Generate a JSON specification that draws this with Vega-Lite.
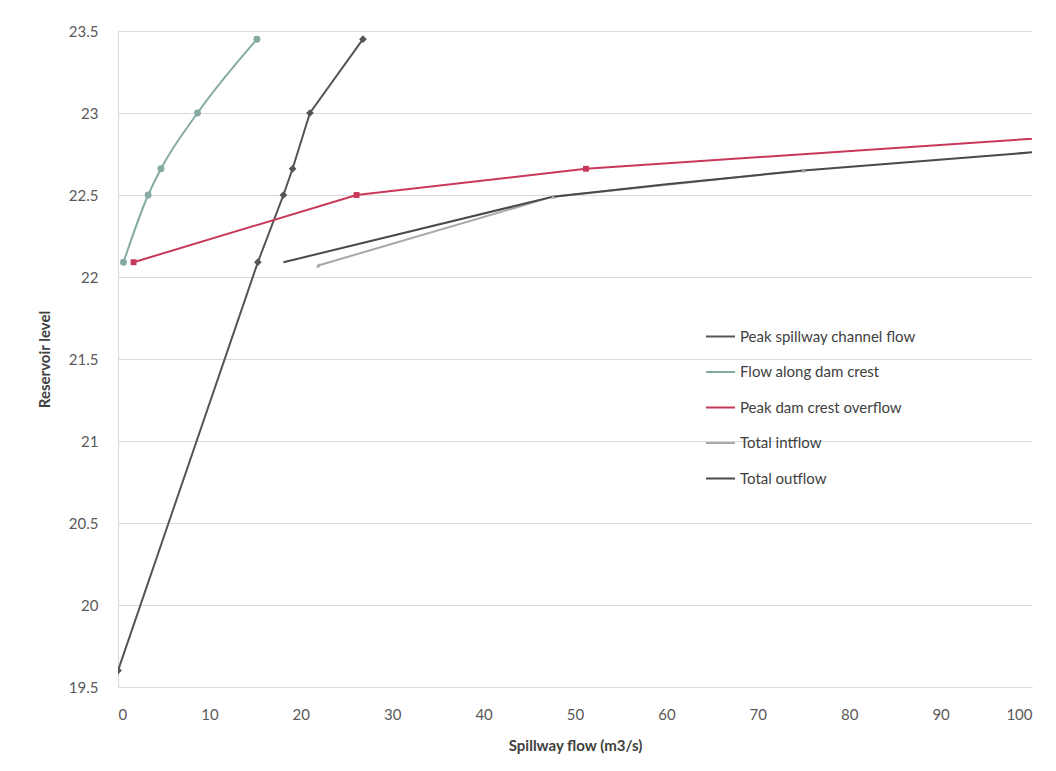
{
  "$schema": "https://vega.github.io/schema/vega-lite/v6.json",
  "width": 914,
  "height": 656,
  "autosize": "none",
  "padding": {"left": 118, "top": 31, "right": 24, "bottom": 84},
  "background": "white",
  "config": {
    "font": "Lato",
    "view": {"stroke": null},
    "axis": {
      "labelFont": "Lato",
      "labelFontSize": 15,
      "labelColor": "#595959",
      "titleFont": "Lato",
      "titleFontSize": 15,
      "titleFontWeight": "bold",
      "titleColor": "#404040",
      "ticks": false,
      "gridColor": "#d9d9d9",
      "domainColor": "#d9d9d9"
    }
  },
  "data": {
    "values": [
      {"series": "Peak spillway channel flow", "flow": 0, "level": 19.6},
      {"series": "Peak spillway channel flow", "flow": 15.3, "level": 22.09},
      {"series": "Peak spillway channel flow", "flow": 18.1, "level": 22.5},
      {"series": "Peak spillway channel flow", "flow": 19.1, "level": 22.66},
      {"series": "Peak spillway channel flow", "flow": 21.0, "level": 23.0},
      {"series": "Peak spillway channel flow", "flow": 26.8, "level": 23.45},

      {"series": "Flow along dam crest", "flow": 0.6, "level": 22.09},
      {"series": "Flow along dam crest", "flow": 3.3, "level": 22.5},
      {"series": "Flow along dam crest", "flow": 4.7, "level": 22.66},
      {"series": "Flow along dam crest", "flow": 8.7, "level": 23.0},
      {"series": "Flow along dam crest", "flow": 15.2, "level": 23.45},

      {"series": "Peak dam crest overflow", "flow": 1.7, "level": 22.09},
      {"series": "Peak dam crest overflow", "flow": 26.1, "level": 22.5},
      {"series": "Peak dam crest overflow", "flow": 51.2, "level": 22.66},
      {"series": "Peak dam crest overflow", "flow": 150, "level": 23.03},

      {"series": "Total intflow", "flow": 21.9, "level": 22.07},
      {"series": "Total intflow", "flow": 47.6, "level": 22.49},
      {"series": "Total intflow", "flow": 75.0, "level": 22.65},

      {"series": "Total outflow", "flow": 18.1, "level": 22.09},
      {"series": "Total outflow", "flow": 47.6, "level": 22.49},
      {"series": "Total outflow", "flow": 60.0, "level": 22.565},
      {"series": "Total outflow", "flow": 75.0, "level": 22.65},
      {"series": "Total outflow", "flow": 100.0, "level": 22.76},
      {"series": "Total outflow", "flow": 130, "level": 22.86}
    ]
  },
  "encoding": {
    "x": {
      "field": "flow",
      "type": "quantitative",
      "scale": {"domain": [0, 100], "nice": false, "zero": false},
      "axis": {
        "title": "Spillway flow (m3/s)",
        "values": [0, 10, 20, 30, 40, 50, 60, 70, 80, 90, 100],
        "format": "d",
        "grid": false,
        "labelPadding": 20,
        "titlePadding": 16
      }
    },
    "y": {
      "field": "level",
      "type": "quantitative",
      "scale": {"domain": [19.5, 23.5], "nice": false, "zero": false},
      "axis": {
        "title": "Reservoir level",
        "values": [19.5, 20, 20.5, 21, 21.5, 22, 22.5, 23, 23.5],
        "format": "~g",
        "grid": true,
        "labelPadding": 20,
        "titlePadding": 16
      }
    },
    "color": {
      "field": "series",
      "type": "nominal",
      "scale": {
        "domain": ["Peak spillway channel flow", "Flow along dam crest", "Peak dam crest overflow", "Total intflow", "Total outflow"],
        "range": ["#555555", "#85aaa4", "#c8385a", "#a8a8a8", "#4a4a4a"]
      },
      "legend": {
        "title": null,
        "orient": "none",
        "legendX": 587,
        "legendY": 290,
        "symbolType": "stroke",
        "symbolSize": 841,
        "symbolStrokeWidth": 2,
        "rowPadding": 11.5,
        "labelOffset": 4,
        "labelLimit": 0,
        "labelFont": "Lato",
        "labelFontSize": 15,
        "labelColor": "#404040",
        "padding": 0
      }
    }
  },
  "layer": [
    {
      "transform": [{"filter": "datum.series === 'Flow along dam crest'"}],
      "mark": {"type": "line", "clip": true, "strokeWidth": 2, "interpolate": "monotone"}
    },
    {
      "transform": [{"filter": "datum.series !== 'Flow along dam crest'"}],
      "mark": {"type": "line", "clip": true, "strokeWidth": 2}
    },
    {
      "transform": [{"filter": "datum.series !== 'Total outflow'"}],
      "mark": {"type": "point", "filled": true, "clip": true, "opacity": 1},
      "encoding": {
        "shape": {
          "field": "series",
          "type": "nominal",
          "scale": {
            "domain": ["Peak spillway channel flow", "Flow along dam crest", "Peak dam crest overflow", "Total intflow"],
            "range": ["diamond", "circle", "square", "triangle-up"]
          },
          "legend": null
        },
        "size": {
          "field": "series",
          "type": "nominal",
          "scale": {
            "domain": ["Peak spillway channel flow", "Flow along dam crest", "Peak dam crest overflow", "Total intflow"],
            "range": [60, 22, 130, 70]
          },
          "legend": null
        }
      }
    }
  ]
}
